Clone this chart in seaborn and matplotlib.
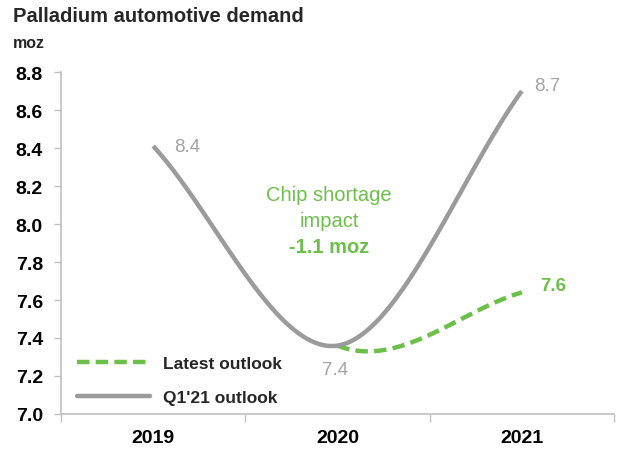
import numpy as np
import pandas as pd
import matplotlib
matplotlib.use("Agg")
import matplotlib.pyplot as plt
from matplotlib.lines import Line2D
import seaborn as sns

# ---- data ----
years = ["2019", "2020", "2021"]
q1_outlook = [8.41, 7.36, 8.70]       # Q1'21 outlook
latest_outlook = [8.41, 7.36, 7.64]   # latest outlook (shown from 2020 on)
latest_start = 1                       # index where the latest outlook line is drawn from
q1_labels = ["8.4", "7.4", "8.7"]
latest_end_label = "7.6"
yticks = [7.0, 7.2, 7.4, 7.6, 7.8, 8.0, 8.2, 8.4, 8.6, 8.8]
title = "Palladium automotive demand"
unit = "moz"
note_lines = ["Chip shortage", "impact"]
note_value = "-1.1 moz"

GREEN = "#6cc04a"
GREY_LINE = "#9b9b9b"
GREY_TEXT = "#a3a3a3"
SPINE = "#c0c0c0"


def smooth(vals, n=60):
    """Cardinal (Catmull-Rom) smoothing like a spreadsheet smoothed line."""
    v = np.asarray(vals, float)
    k = len(v)
    m = np.zeros(k)
    for i in range(k):
        if i == 0:
            m[i] = v[1] - v[0]
        elif i == k - 1:
            m[i] = v[-1] - v[-2]
        else:
            m[i] = (v[i + 1] - v[i - 1]) / 2
    xs, ys, seg = [], [], []
    for i in range(k - 1):
        t = np.linspace(0, 1, n)
        h00 = 2 * t**3 - 3 * t**2 + 1
        h10 = t**3 - 2 * t**2 + t
        h01 = -2 * t**3 + 3 * t**2
        h11 = t**3 - t**2
        xs.append(i + t)
        ys.append(h00 * v[i] + h10 * m[i] + h01 * v[i + 1] + h11 * m[i + 1])
        seg.append(np.full(n, i))
    return np.concatenate(xs), np.concatenate(ys), np.concatenate(seg)


sns.set_theme(style="white")
plt.rcParams["font.family"] = ["Liberation Sans", "DejaVu Sans"]

fig = plt.figure(figsize=(6.17, 4.52), dpi=100)
ax = fig.add_axes([61 / 617, 1 - 415 / 452, (614 - 61) / 617, (415 - 73) / 452])

gx, gy, _ = smooth(q1_outlook)
df_q1 = pd.DataFrame({"x": gx, "y": gy})
lx, ly, lseg = smooth(latest_outlook)
mask = lseg >= latest_start
df_latest = pd.DataFrame({"x": lx[mask], "y": ly[mask]})

DASH = (0, (2.8, 1.4))
sns.lineplot(data=df_latest, x="x", y="y", ax=ax, color=GREEN, lw=3.2,
             linestyle=DASH, sort=False, estimator=None, zorder=2)
sns.lineplot(data=df_q1, x="x", y="y", ax=ax, color=GREY_LINE, lw=3.2,
             sort=False, estimator=None, zorder=3, solid_capstyle="butt")

ax.set_xlim(-0.5, len(years) - 0.5)
ax.set_ylim(yticks[0], yticks[-1])
ax.set_xlabel("")
ax.set_ylabel("")

# y axis
ax.set_yticks(yticks)
ax.set_yticklabels([f"{t:.1f}" for t in yticks], fontsize=14, fontweight="bold", color="black")
# x axis: boundary ticks, centred labels
ax.set_xticks(np.arange(-0.5, len(years), 1.0))
ax.set_xticklabels([])
ax.set_xticks(np.arange(len(years)), minor=True)
ax.set_xticklabels(years, minor=True, fontsize=14, fontweight="bold", color="black")
ax.tick_params(axis="x", which="major", length=6, width=1, color=SPINE, direction="out", bottom=True)
ax.tick_params(axis="x", which="minor", length=0, pad=11)
ax.tick_params(axis="y", length=5, width=1, color=SPINE, direction="out", left=True, pad=8)

for s in ["top", "right"]:
    ax.spines[s].set_visible(False)
for s in ["left", "bottom"]:
    ax.spines[s].set_color(SPINE)
    ax.spines[s].set_linewidth(1.2)

# data labels
offsets = [(15, 0, "left"), (-2, -17, "center"), (9, 4, "left")]
for i, (lab, (dx, dy, ha)) in enumerate(zip(q1_labels, offsets)):
    ax.annotate(lab, (i, q1_outlook[i]), xytext=(dx, dy), textcoords="offset points",
                ha=ha, va="center", fontsize=13.5, color=GREY_TEXT)
ax.annotate(latest_end_label, (len(years) - 1, latest_outlook[-1]), xytext=(13, 5),
            textcoords="offset points", ha="left", va="center", fontsize=13.5,
            color=GREEN, fontweight="bold")

# note
note_x = 0.954
ax.text(note_x, 8.153, note_lines[0], ha="center", va="center", fontsize=14.5, color=GREEN)
ax.text(note_x, 8.016, note_lines[1], ha="center", va="center", fontsize=14.5, color=GREEN)
ax.text(note_x, 7.884, note_value, ha="center", va="center", fontsize=14.5, color=GREEN,
        fontweight="bold")

# legend
handles = [Line2D([], [], color=GREEN, lw=3.2, linestyle=DASH),
           Line2D([], [], color=GREY_LINE, lw=3.2)]
ax.legend(handles, ["Latest outlook", "Q1'21 outlook"], loc="lower left",
          bbox_to_anchor=(0.0, -0.02), frameon=False,
          prop={"weight": "bold", "size": 12.5}, handlelength=4.2, handletextpad=0.8,
          labelspacing=1.1)

fig.text(13 / 617, 1 - 16 / 452, title, fontsize=14.5, fontweight="bold", va="center", ha="left")
fig.text(13 / 617, 1 - 44 / 452, unit, fontsize=11.5, fontweight="bold", va="center", ha="left")

fig.savefig("out.png", dpi=100)
